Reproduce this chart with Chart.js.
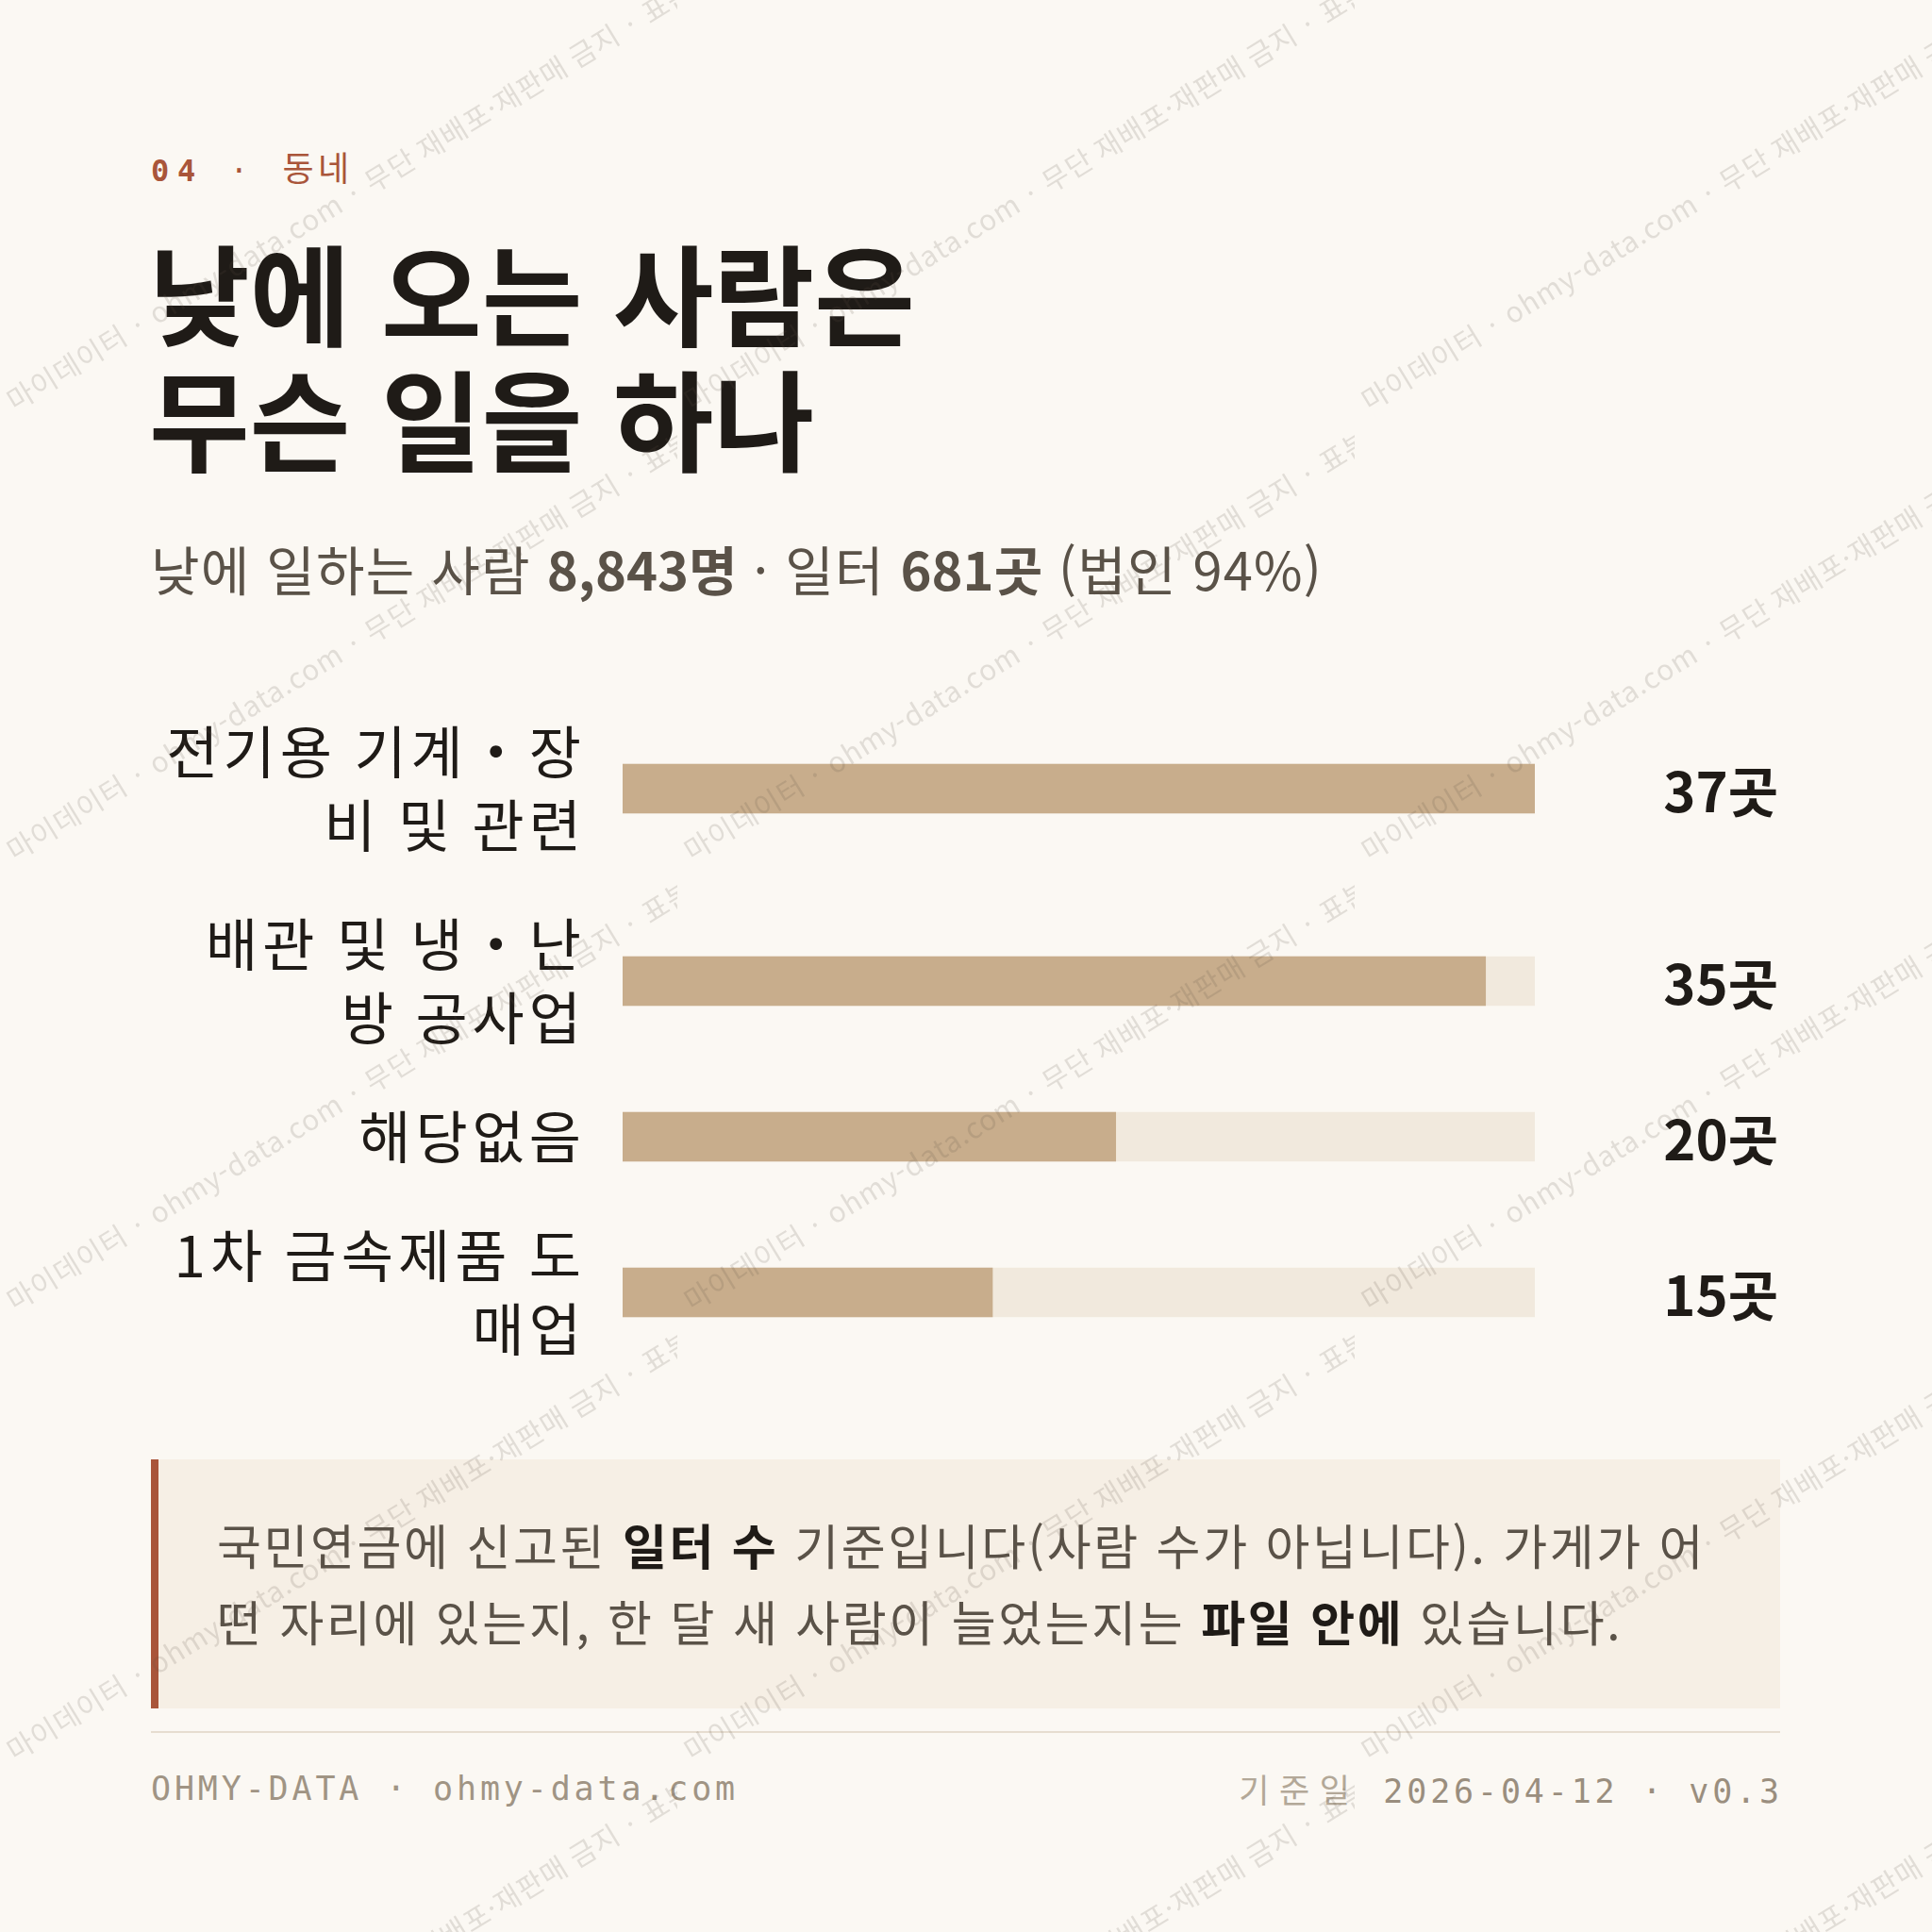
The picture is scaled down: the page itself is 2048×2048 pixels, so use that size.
<!DOCTYPE html>
<html lang="ko">
<head>
<meta charset="utf-8">
<title>낮에 오는 사람은 무슨 일을 하나</title>
<script src="https://cdn.jsdelivr.net/npm/chart.js@4.4.1/dist/chart.umd.min.js"></script>
<style>
  html, body { margin: 0; padding: 0; }
  body {
    width: 2048px; height: 2048px; position: relative; overflow: hidden;
    background: #fbf8f3; color: #1f1b17;
    font-family: "Noto Sans CJK KR", "Noto Sans", sans-serif;
  }
  .kicker {
    position: absolute; left: 160px; top: 153px;
    font-size: 32px; line-height: 46px; letter-spacing: 0.27em; color: #a9553a;
  }
  .kicker .num { font-family: "DejaVu Sans Mono", monospace; font-weight: 700; }
  .kicker .dot { font-family: "DejaVu Sans Mono", monospace; }
  .kicker .ko { font-size: 36px; letter-spacing: 0.12em; }
  h1 {
    position: absolute; left: 158px; top: 241px; margin: 0;
    font-size: 116px; line-height: 133px; font-weight: 700; letter-spacing: 0;
  }
  .sub {
    position: absolute; left: 160px; top: 568px; margin: 0;
    font-size: 56px; line-height: 67px; color: #5a5248; white-space: nowrap;
    letter-spacing: 1.2px;
  }
  .sub b { font-weight: 700; letter-spacing: 0; }
  #rows { position: absolute; left: 160px; top: 758px; width: 1727px; }
  #rows .row { position: relative; margin-bottom: 48px; }
  #rows .row:last-child { margin-bottom: 0; }
  #rows canvas { display: block; }
  .note {
    position: absolute; left: 160px; top: 1547px; width: 1727px; height: 264px;
    box-sizing: border-box; background: #f6efe5; border-left: 8px solid #a9553a;
    padding: 50px 62px 0 62px;
    font-size: 51px; line-height: 81px; color: #5a5248; letter-spacing: 2.6px;
  }
  .note b { color: #1f1b17; font-weight: 700; }
  .rule { position: absolute; left: 160px; top: 1835px; width: 1727px; height: 2px; background: #e6ddd0; }
  .foot {
    position: absolute; top: 1876px; font-family: "DejaVu Sans Mono", monospace;
    font-size: 35px; line-height: 40px; letter-spacing: 0.11em; color: #a09484; white-space: nowrap;
  }
  .foot.left { left: 160px; }
  .foot.right { right: 158px; }
  .foot .ko { font-family: "Noto Sans CJK KR", sans-serif; color: #b3a898; letter-spacing: 0.3em; }
  .foot .date { color: #9a8e7e; }
  #wm { position: absolute; left: 0; top: 0; z-index: 10; pointer-events: none; }
</style>
</head>
<body>
<div class="kicker"><span class="num">04</span><span class="dot"> · </span><span class="ko">동네</span></div>
<h1>낮에 오는 사람은<br>무슨 일을 하나</h1>
<p class="sub">낮에 일하는 사람 <b>8,843명</b> · 일터 <b>681곳</b> (법인 94%)</p>

<div id="rows"></div>

<div class="note">국민연금에 신고된 <b>일터 수</b> 기준입니다(사람 수가 아닙니다). 가게가 어떤 자리에 있는지, 한 달 새 사람이 늘었는지는 <b>파일 안에</b> 있습니다.</div>

<div class="rule"></div>
<div class="foot left">OHMY-DATA · ohmy-data.com</div>
<div class="foot right"><span class="ko">기준일</span> <span class="date">2026-04-12 · v0.3</span></div>

<canvas id="wm" width="2048" height="2048"></canvas>

<script>
// 업종별 일터 수 (라벨은 화면에 보이는 줄바꿈 그대로)
const categories = [
  ['전기용 기계・장', '비 및 관련'],
  ['배관 및 냉・난', '방 공사업'],
  ['해당없음'],
  ['1차 금속제품 도', '매업']
];
const counts = [37, 35, 20, 15];
const unitLabel = '곳';

const maxCount = Math.max(...counts);

const colors = {
  bar: '#c8ad8c',
  track: '#f1e9dd',
  label: '#1f1b17',
  value: '#1f1b17'
};

const labelSize = 60;
const labelLine = 78;
const labelSpacing = 5;
const fontFamily = "'Noto Sans CJK KR', 'Noto Sans', sans-serif";

// wider letter spacing for the category labels
const labelSpacingPlugin = {
  id: 'labelSpacing',
  beforeDraw(chart) {
    chart.ctx.letterSpacing = labelSpacing + 'px';
  }
};

// value text at the right end of each row
const valueLabels = {
  id: 'valueLabels',
  afterDatasetsDraw(chart) {
    const ctx = chart.ctx;
    const meta = chart.getDatasetMeta(0);
    ctx.save();
    ctx.letterSpacing = '0px';
    ctx.font = '700 58px ' + fontFamily;
    ctx.fillStyle = colors.value;
    ctx.textAlign = 'right';
    ctx.textBaseline = 'middle';
    meta.data.forEach((bar, i) => {
      ctx.fillText(chart.data.datasets[0].data[i] + unitLabel, chart.width - 2, bar.y + 3);
    });
    ctx.restore();
  }
};

const rowsEl = document.getElementById('rows');

categories.forEach((label, i) => {
  const row = document.createElement('div');
  row.className = 'row';
  const h = label.length * labelLine;
  row.style.height = h + 'px';
  const canvas = document.createElement('canvas');
  canvas.width = 1727;
  canvas.height = h;
  row.appendChild(canvas);
  rowsEl.appendChild(row);

  new Chart(canvas.getContext('2d'), {
    type: 'bar',
    data: {
      labels: [label],
      datasets: [
        {
          data: [counts[i]],
          backgroundColor: colors.bar,
          barThickness: 52,
          borderWidth: 0,
          order: 0
        },
        {
          data: [maxCount],
          backgroundColor: colors.track,
          barThickness: 52,
          borderWidth: 0,
          order: 1
        }
      ]
    },
    options: {
      indexAxis: 'y',
      responsive: false,
      animation: false,
      grouped: false,
      layout: { padding: { left: 0, right: 260, top: 0, bottom: 0 } },
      plugins: {
        legend: { display: false },
        tooltip: { enabled: false }
      },
      scales: {
        x: {
          display: false,
          min: 0,
          max: maxCount
        },
        y: {
          grid: { display: false, drawTicks: false },
          border: { display: false },
          ticks: {
            color: colors.label,
            padding: 44 - labelSpacing,
            font: { family: fontFamily, size: labelSize, lineHeight: labelLine / labelSize }
          },
          afterFit: (scale) => {
            scale.width = 500;
            // the label block is as tall as the row: no extra room above/below
            scale.paddingTop = 0;
            scale.paddingBottom = 0;
          }
        }
      }
    },
    plugins: [labelSpacingPlugin, valueLabels]
  });
});

// watermark tiles
(function drawWatermark() {
  const c = document.getElementById('wm');
  const ctx = c.getContext('2d');
  const tileW = 718, tileH = 477;
  const text = '· 마이데이터 · ohmy-data.com · 무단 재배포·재판매 금지 · 표본 데이터';
  ctx.font = "30px 'Noto Sans CJK KR', sans-serif";
  ctx.letterSpacing = '1px';
  ctx.fillStyle = 'rgba(95, 82, 68, 0.16)';
  for (let r = -1; r < 6; r++) {
    for (let col = 0; col < 3; col++) {
      const ox = col * tileW;
      const oy = -16 + r * tileH;
      ctx.save();
      ctx.beginPath();
      ctx.rect(ox, oy, tileW, tileH);
      ctx.clip();
      ctx.translate(ox - 6, oy + 466);
      ctx.rotate(-31.4 * Math.PI / 180);
      ctx.fillText(text, 0, 0);
      ctx.restore();
    }
  }
})();
</script>
</body>
</html>
